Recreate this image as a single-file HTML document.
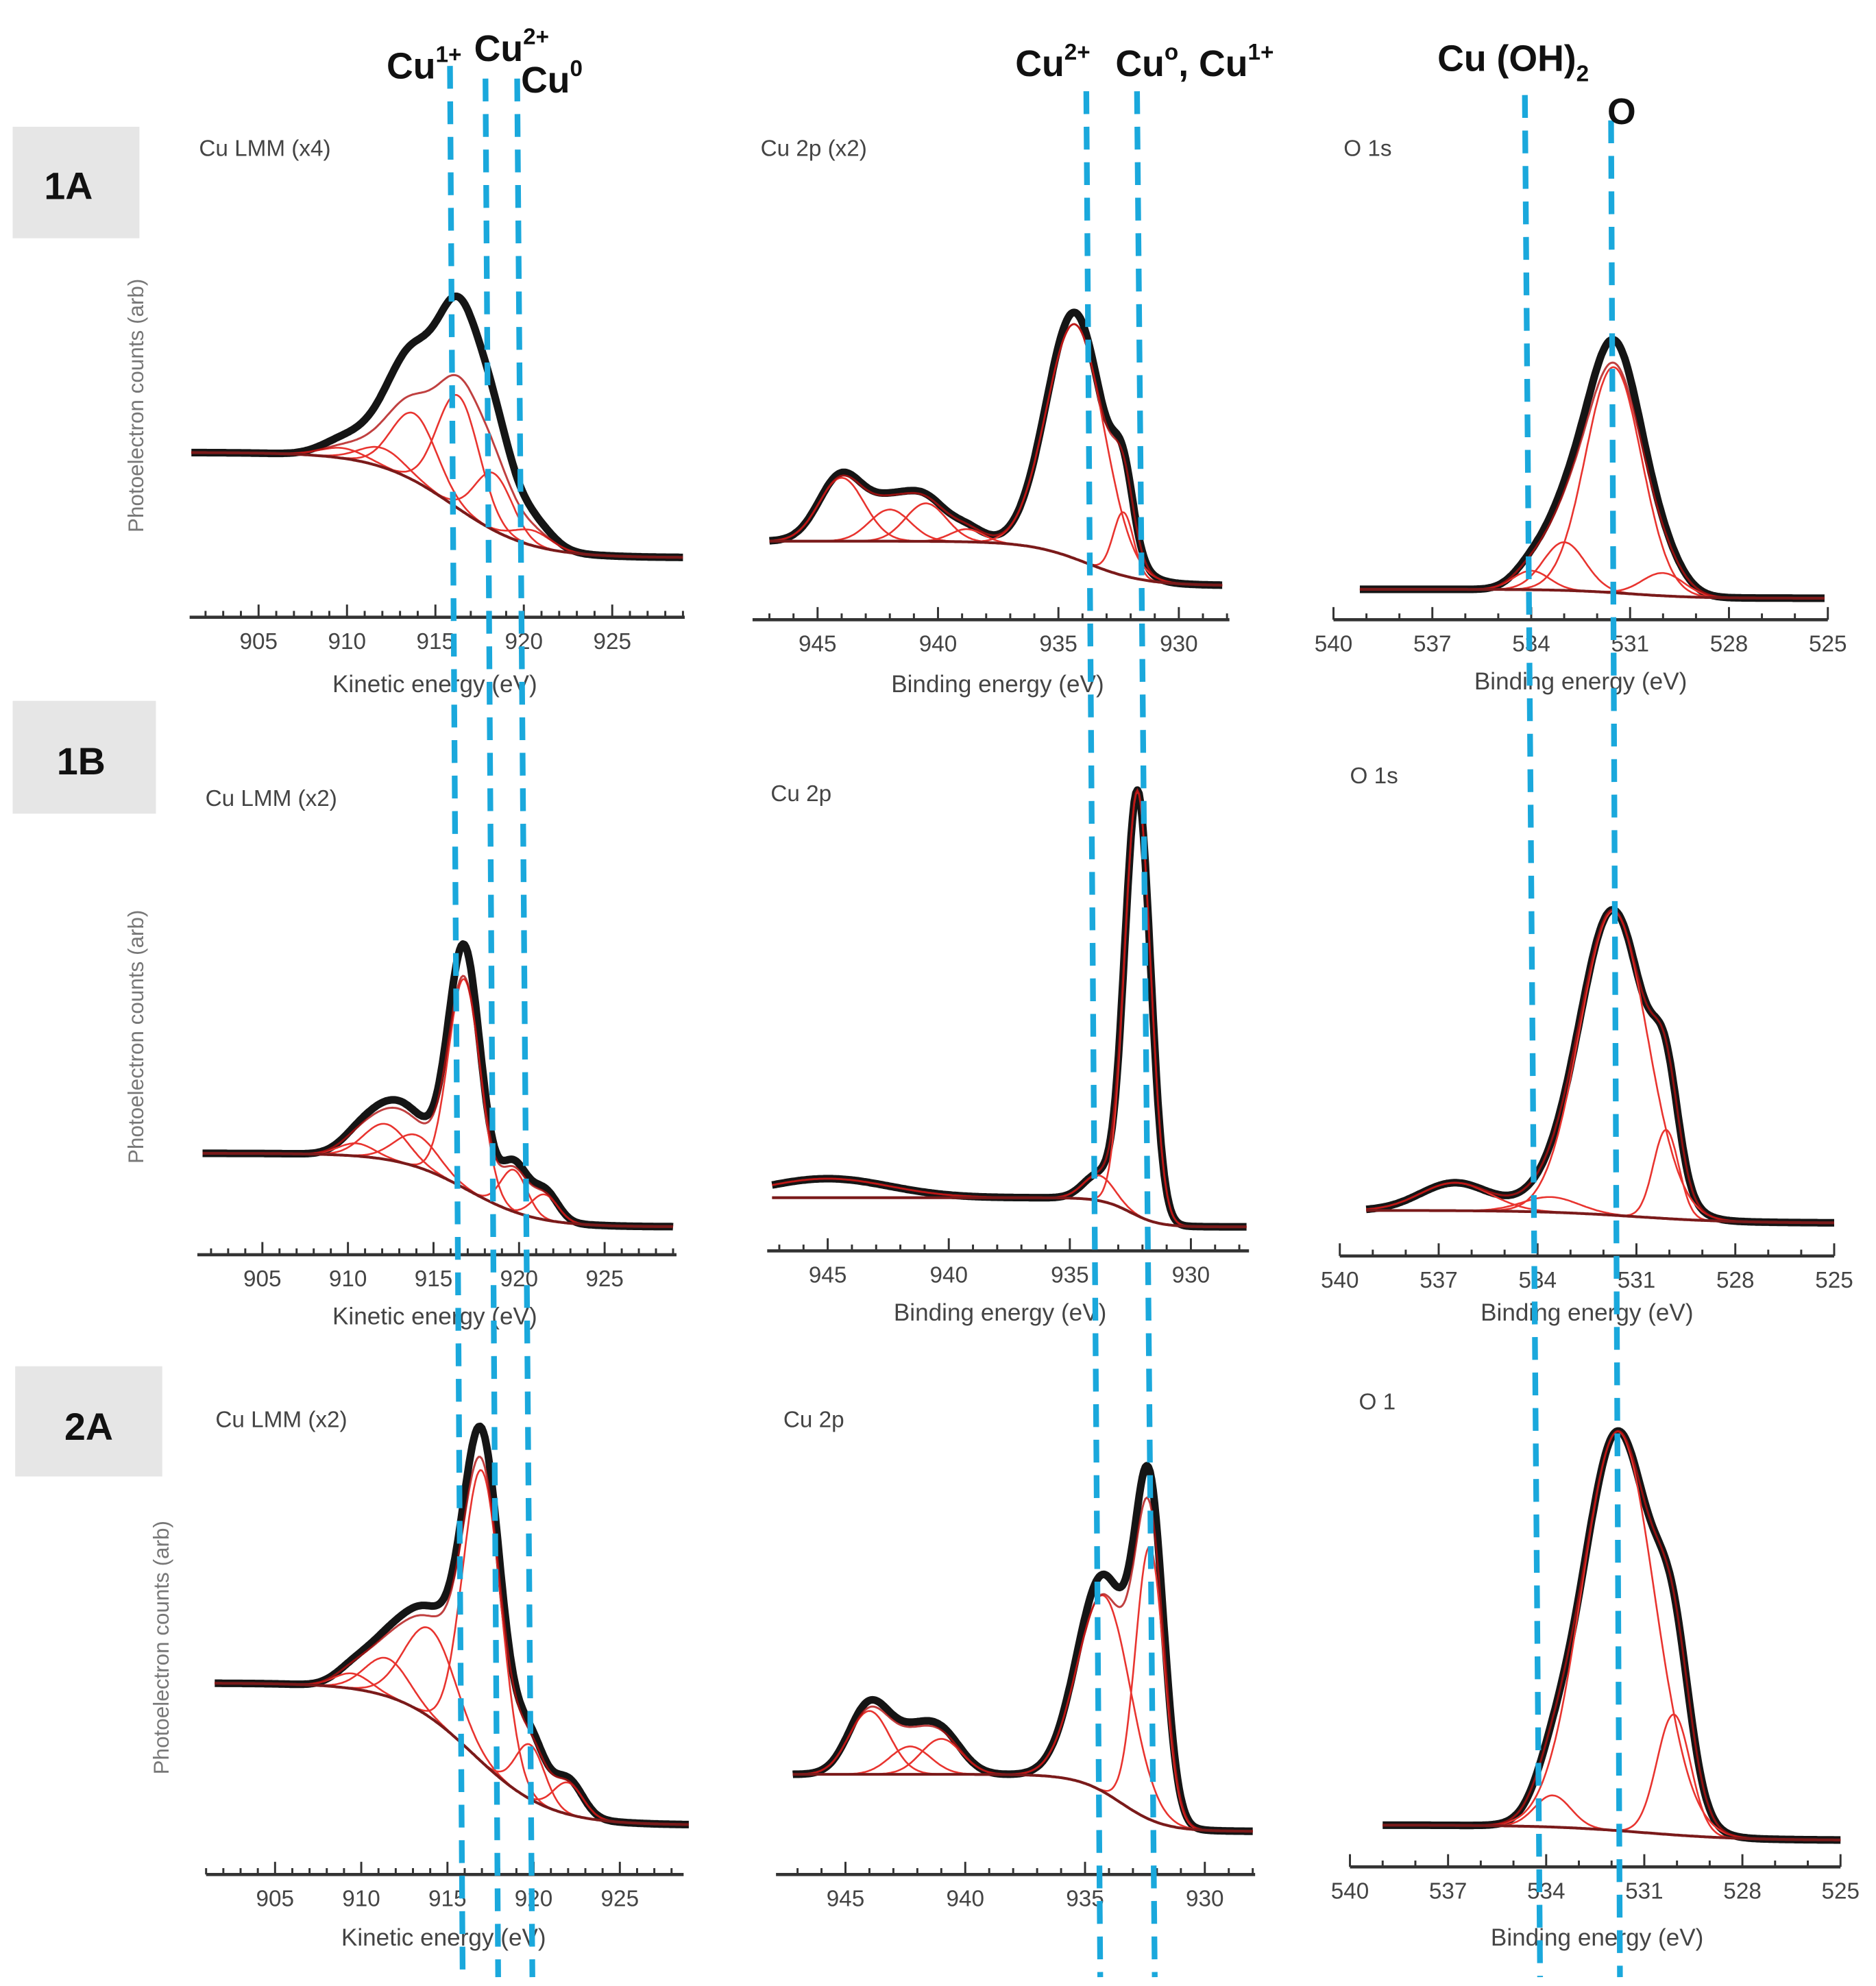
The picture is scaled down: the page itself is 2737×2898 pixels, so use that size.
<!DOCTYPE html>
<html><head><meta charset="utf-8"><style>
html,body{margin:0;padding:0;background:#fff;}
svg{display:block;}
text{font-family:"Liberation Sans",sans-serif;}
</style></head><body>
<svg id="fig" width="2737" height="2898" viewBox="0 0 1480 1567" preserveAspectRatio="none" xmlns="http://www.w3.org/2000/svg">
<rect x="0" y="0" width="1480" height="1567" fill="#fff"/>
<g id="panels"></g>
<g id="guides"></g>
<g>
  <rect x="10" y="100" width="100" height="88" fill="#e6e6e6"/>
  <text x="54" y="157" font-size="30" font-weight="bold" text-anchor="middle" fill="#111">1A</text>
  <rect x="10" y="553" width="113" height="89" fill="#e6e6e6"/>
  <text x="64" y="611" font-size="30" font-weight="bold" text-anchor="middle" fill="#111">1B</text>
  <rect x="12" y="1078" width="116" height="87" fill="#e6e6e6"/>
  <text x="70" y="1136" font-size="30" font-weight="bold" text-anchor="middle" fill="#111">2A</text>
</g>
<g font-weight="bold" fill="#111" font-size="29">
  <text x="305" y="62">Cu<tspan font-size="18" dy="-13">1+</tspan></text>
  <text x="374" y="48">Cu<tspan font-size="18" dy="-13">2+</tspan></text>
  <text x="411" y="73">Cu<tspan font-size="18" dy="-13">0</tspan></text>
  <text x="801" y="60">Cu<tspan font-size="18" dy="-13">2+</tspan></text>
  <text x="880" y="60">Cu<tspan font-size="18" dy="-13">o</tspan><tspan dy="13">, Cu</tspan><tspan font-size="18" dy="-13">1+</tspan></text>
  <text x="1134" y="56">Cu (OH)<tspan font-size="18" dy="8">2</tspan></text>
  <text x="1268" y="98">O</text>
</g>
</svg>
<script>
// ---- data (energies eV; intensities arbitrary counts) ----
const panelTitles=["Cu LMM  (x4)","Cu 2p  (x2)","O 1s","Cu LMM  (x2)","Cu 2p","O 1s","Cu LMM  (x2)","Cu 2p","O 1"];
const axisTitles=["Kinetic energy (eV)","Binding energy (eV)","Binding energy (eV)","Kinetic energy (eV)","Binding energy (eV)","Binding energy (eV)","Kinetic energy (eV)","","Binding energy (eV)"];
const tickLabelsLMM=[905,910,915,920,925];
const tickLabels2p=[945,940,935,930];
const tickLabelsO=[540,537,534,531,528,525];
// peak centers / heights / fwhm per panel
const peakCenters=[
 [909.8,912,913.8,916.3,918.3,920.5],
 [944,942,940.5,938.8,934.3,932.3],
 [534,533,531.5,530],
 [910.5,912.2,914,916.8,919.7,921.5],
 [945,933.8,932.2],
 [536.5,533.6,531.7,530.1],
 [909.5,911.5,914,917,919.8,922],
 [944,942.3,941,934.2,932.3],
 [533.8,531.8,530.1]];
const peakHeights=[
 [8,15,53,89,45,12],
 [50,25,30,10,185,50],
 [15,38,178,18],
 [10,28,25,165,33,20],
 [15,20,335],
 [22,12,240,70],
 [12,30,70,230,43,25],
 [50,22,28,155,215],
 [25,315,95]];
const peakWidths=[
 [3,3,3,2.8,2.5,2.5],
 [2.2,2,2,1.6,2.8,1.0],
 [1.3,1.5,2.0,1.5],
 [2.5,3,3,2.2,1.8,1.8],
 [6,1.5,1.25],
 [2.5,2,2.4,0.9],
 [2.5,3,3.5,2.6,2,2],
 [2,2,2,2.6,1.4],
 [1.3,2.6,1.2]];
// background step: [high level, low level, center, width]
const backgrounds=[[83,0,916,2.2],[35,0,933.8,1.2],[7,0,531,1],[58,0,917,2],[23,0,932.5,0.6],[10,0,531,1.5],[112,0,916.5,2.2],[45,0,933.5,0.9],[12,0,531,1.5]];
const dataScales=[1.6,1.05,1.1,1.15,1.0,1.0,1.1,1.1,1.0];
const dataRanges=[[901.2,929],[947,928.2],[539.2,525.1],[901.5,929],[947.3,927.7],[539.2,525],[901.5,929],[947.2,928],[539,525]];
const axisRanges=[[901.1,929.1],[947.7,927.9],[540,525],[901.2,929.2],[947.5,927.6],[540,525],[901,928.7],[947.9,927.9],[540,525]];

// ---- layout (pixel frames) ----
const L=[
 {x0:204,e0:905,s:13.95,ax:487,y0:440,kind:'lmm',tx:157,ty:123,atx:343,aty:546,yl:[113,320]},
 {x0:645,e0:945,s:-19.0,ax:489,y0:462,kind:'2p',tx:600,ty:123,atx:787,aty:546},
 {x0:1052,e0:540,s:-26.0,ax:489,y0:472,kind:'o',tx:1060,ty:123,atx:1247,aty:544},
 {x0:207,e0:905,s:13.5,ax:990,y0:968,kind:'lmm',tx:162,ty:636,atx:343,aty:1045,yl:[113,818]},
 {x0:653,e0:945,s:-19.1,ax:987,y0:968,kind:'2p',tx:608,ty:632,atx:789,aty:1042},
 {x0:1057,e0:540,s:-26.0,ax:991,y0:965,kind:'o',tx:1065,ty:618,atx:1252,aty:1042},
 {x0:217,e0:905,s:13.6,ax:1479,y0:1440,kind:'lmm',tx:170,ty:1126,atx:350,aty:1535,yl:[133,1300]},
 {x0:667,e0:945,s:-18.9,ax:1479,y0:1445,kind:'2p',tx:618,ty:1126,atx:800,aty:1535},
 {x0:1065,e0:540,s:-25.8,ax:1473,y0:1452,kind:'o',tx:1072,ty:1112,atx:1260,aty:1535}];

const NS="http://www.w3.org/2000/svg";
function mk(tag,attrs,parent){const e=document.createElementNS(NS,tag);for(const k in attrs)e.setAttribute(k,attrs[k]);parent.appendChild(e);return e;}
function gauss(E,c,h,f){return h*Math.exp(-4*Math.LN2*(E-c)*(E-c)/(f*f));}
function bgVal(i,E){const b=backgrounds[i];const sgn=L[i].kind==='lmm'?1:-1;return b[1]+(b[0]-b[1])/(1+Math.exp(sgn*(E-b[2])/b[3]));}

const root=document.getElementById('panels');
for(let i=0;i<9;i++){
  const P=L[i];
  const xs=E=>P.x0+(E-P.e0)*P.s;
  const ys=v=>P.y0-v;
  const g=mk('g',{},root);
  
  
  const t=mk('text',{x:P.tx,y:P.ty,'font-size':18,fill:'#444'},g);t.textContent=panelTitles[i];
  
  
  if(P.yl){const yt=mk('text',{x:0,y:0,'font-size':17,fill:'#777','text-anchor':'middle',transform:`translate(${P.yl[0]},${P.yl[1]}) rotate(-90)`},g);yt.textContent="Photoelectron counts (arb)";
    
    }
  const ar=axisRanges[i];
  const axl=mk('line',{x1:xs(ar[0]),x2:xs(ar[1]),y1:P.ax,y2:P.ax,stroke:'#333','stroke-width':2.5},g);
  
  
  const lo=Math.ceil(Math.min(ar[0],ar[1])),hi=Math.floor(Math.max(ar[0],ar[1]));
  const labels=P.kind==='lmm'?tickLabelsLMM:P.kind==='2p'?tickLabels2p:tickLabelsO;
  for(let E=lo;E<=hi;E++){
    const isMaj=labels.includes(E)||(P.kind!=='o'&&E%5===0);
    mk('line',{x1:xs(E),x2:xs(E),y1:P.ax,y2:P.ax-(isMaj?10:5),stroke:'#333','stroke-width':1.6},g);
  }
  for(const v of labels){
    const tl=mk('text',{x:xs(v),y:P.ax+25,'font-size':18,fill:'#444','text-anchor':'middle'},g);tl.textContent=v;
    
    
  }
  if(axisTitles[i]){const at=mk('text',{x:P.atx,y:P.aty,'font-size':19,fill:'#444','text-anchor':'middle'},g);at.textContent=axisTitles[i];
    
    }
  const dr=dataRanges[i];const N=300;
  const Es=[];for(let k=0;k<=N;k++)Es.push(dr[0]+(dr[1]-dr[0])*k/N);
  const pts=f=>Es.map(E=>xs(E).toFixed(1)+','+ys(f(E)).toFixed(1)).join(' ');
  const sum=E=>peakCenters[i].reduce((a,c,j)=>a+gauss(E,c,peakHeights[i][j],peakWidths[i][j]),0);
  const d=mk('polyline',{points:pts(E=>bgVal(i,E)+dataScales[i]*sum(E)),fill:'none',stroke:'#151515','stroke-width':6,'stroke-linejoin':'round'},g);
  
  
  peakCenters[i].forEach((c,j)=>{
    const pc=mk('polyline',{points:pts(E=>bgVal(i,E)+gauss(E,c,peakHeights[i][j],peakWidths[i][j])),fill:'none',stroke:'#e8342f','stroke-width':1.4},g);
    
    
  });
  const env=mk('polyline',{points:pts(E=>bgVal(i,E)+sum(E)),fill:'none',stroke:'#b01010','stroke-width':1.6,opacity:0.8},g);
  
  
  const bg=mk('polyline',{points:pts(E=>bgVal(i,E)),fill:'none',stroke:'#7a1a1a','stroke-width':2.2},g);
  
  
}
const guideLines=[[355,52,365,1560],[383,62,393,1560],[408,62,420,1560],[857,72,868,1560],[897,72,911,1560],[1203,75,1215,1560],[1271,95,1278,1560]];
const gg=document.getElementById('guides');
guideLines.forEach(l=>{
  const e=mk('line',{x1:l[0],y1:l[1],x2:l[2],y2:l[3],stroke:'#1aa8dc','stroke-width':4.5,'stroke-dasharray':'18 10'},gg);
  
  
});
</script>
</body></html>
